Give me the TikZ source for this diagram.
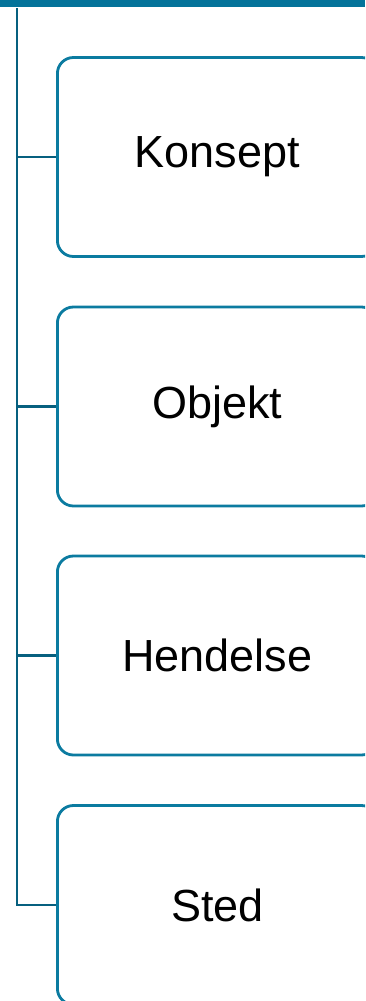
\documentclass[tikz,border=0pt]{standalone}
\usepackage{fontspec}
\setmainfont{Liberation Sans}
\definecolor{barc}{HTML}{04739A}
\definecolor{linec}{HTML}{07607F}
\definecolor{boxc}{HTML}{0B7BA0}
\begin{document}
\begin{tikzpicture}[x=1pt,y=-1pt,
  card/.style={draw=boxc,line width=2.8pt,rounded corners=16pt,minimum width=320pt,minimum height=199pt,inner sep=0pt,font=\fontsize{45}{48}\selectfont,anchor=west},
  link/.style={draw=linec,line width=2.5pt}]
\useasboundingbox (0,0) rectangle (365,1001);
\clip (0,0) rectangle (365,1001);
\fill[barc] (0,0) rectangle (365,6.5);
\node[card] (k) at (56,157) {Konsept};
\node[card] (o) at (56,406.5) {Objekt};
\node[card] (h) at (56,655.5) {Hendelse};
\node[card] (s) at (56,905) {Sted};
\coordinate (top) at (17,8);
\coordinate (bot) at (17,905);
\draw[link] (top) -- (bot) -- (s.west);
\draw[link] (17,157) -- (k.west);
\draw[link] (17,406.5) -- (o.west);
\draw[link] (17,655.5) -- (h.west);
\end{tikzpicture}
\end{document}
